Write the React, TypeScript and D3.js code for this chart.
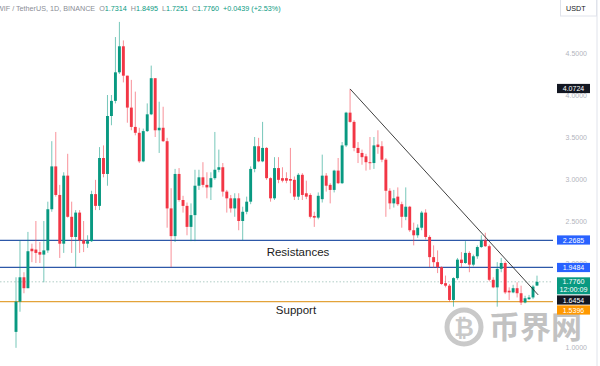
import * as React from "react";
import * as d3 from "d3";

// daily candles
const opens = [
  1.18, 1.54, 1.83, 1.70, 2.17, 2.16, 2.13, 2.10, 2.15, 2.64, 3.15, 2.81, 2.23, 3.04, 2.55, 2.31, 2.60, 2.27, 2.23, 2.26,
  2.82, 2.68, 3.25, 3.06, 3.75, 3.93, 4.27, 4.58, 4.23, 3.85, 3.62, 3.55, 3.21, 3.57, 3.77, 4.20, 3.58, 3.61, 3.45, 2.65,
  2.32, 3.06, 2.75, 2.68, 2.43, 2.57, 2.92, 3.02, 2.93, 2.90, 3.01, 3.11, 3.14, 2.85, 2.77, 2.65, 2.77, 2.50, 2.61, 2.73,
  3.12, 3.39, 3.21, 3.37, 3.01, 2.77, 3.13, 3.01, 3.01, 3.00, 2.99, 2.79, 3.05, 2.83, 2.81, 2.56, 2.54, 2.76, 3.04, 2.93,
  2.87, 3.10, 2.95, 3.40, 3.79, 3.68, 3.37, 3.31, 3.27, 3.20, 3.19, 3.41, 3.39, 3.23, 2.86, 2.71, 2.79, 2.70, 2.55, 2.67,
  2.39, 2.33, 2.42, 2.60, 2.31, 2.07, 2.01, 1.95, 1.76, 1.73, 1.56, 1.82, 2.04, 2.00, 2.12, 1.98, 2.08, 2.19, 2.27, 2.20,
  1.80, 1.71, 1.93, 2.00, 1.67, 1.65, 1.70, 1.64, 1.53, 1.57, 1.59, 1.7314,
];
const highs = [
  1.83, 2.27, 1.89, 2.37, 2.23, 2.50, 2.25, 2.50, 2.73, 3.45, 3.56, 2.93, 3.08, 3.30, 2.73, 2.63, 2.63, 2.50, 2.33, 2.86,
  2.99, 3.38, 3.40, 4.00, 4.00, 4.69, 4.87, 4.65, 4.23, 4.18, 4.04, 3.61, 3.60, 3.90, 4.35, 4.20, 3.92, 3.86, 3.49, 2.89,
  3.12, 3.13, 2.80, 2.72, 2.71, 3.11, 3.11, 3.20, 3.08, 3.08, 3.56, 3.35, 3.19, 2.87, 2.81, 2.83, 2.83, 2.67, 2.79, 3.15,
  3.50, 3.49, 3.68, 3.38, 3.02, 3.26, 3.26, 3.14, 3.08, 3.37, 3.03, 3.07, 3.07, 2.98, 2.83, 2.61, 2.84, 3.29, 3.07, 2.95,
  3.11, 3.25, 3.44, 3.80, 4.07, 3.70, 3.44, 3.35, 3.30, 3.50, 3.50, 3.58, 3.45, 3.25, 2.89, 2.87, 2.90, 2.73, 2.90, 2.68,
  2.48, 2.46, 2.62, 2.64, 2.33, 2.21, 2.15, 1.96, 1.85, 1.75, 1.83, 2.06, 2.13, 2.26, 2.14, 2.10, 2.21, 2.33, 2.36, 2.22,
  1.83, 2.01, 2.06, 2.02, 1.71, 1.74, 1.77, 1.73, 1.61, 1.62, 1.74, 1.8495,
];
const lows = [
  0.99, 1.42, 1.64, 1.70, 2.01, 2.00, 2.00, 1.77, 2.12, 2.61, 2.79, 2.06, 2.12, 2.54, 2.12, 1.95, 2.12, 2.13, 2.18, 2.25,
  2.63, 2.63, 3.02, 2.92, 3.64, 3.90, 4.25, 4.15, 3.67, 3.58, 3.52, 3.19, 3.20, 3.56, 3.76, 3.50, 3.31, 3.44, 2.42, 1.95,
  2.25, 2.73, 2.60, 2.33, 2.26, 2.26, 2.87, 2.90, 2.77, 2.75, 2.99, 3.08, 2.79, 2.60, 2.60, 2.55, 2.39, 2.27, 2.58, 2.70,
  3.08, 3.20, 3.20, 2.99, 2.73, 2.75, 2.95, 2.96, 2.95, 2.83, 2.75, 2.75, 2.75, 2.76, 2.53, 2.43, 2.52, 2.72, 2.85, 2.71,
  2.84, 2.94, 2.94, 3.38, 3.67, 3.33, 3.19, 3.17, 3.10, 3.11, 3.12, 3.30, 3.20, 2.55, 2.64, 2.66, 2.68, 2.42, 2.51, 2.37,
  2.21, 2.30, 2.39, 2.28, 1.95, 1.94, 1.88, 1.74, 1.71, 1.54, 1.48, 1.80, 1.95, 1.99, 1.89, 1.96, 2.05, 2.18, 2.19, 1.78,
  1.70, 1.48, 1.89, 1.63, 1.56, 1.64, 1.59, 1.50, 1.52, 1.56, 1.57, 1.7251,
];
const closes = [
  1.54, 1.83, 1.70, 2.14, 2.14, 2.12, 2.10, 2.15, 2.64, 3.15, 2.81, 2.23, 3.04, 2.55, 2.31, 2.60, 2.27, 2.23, 2.26, 2.82,
  2.68, 3.25, 3.06, 3.75, 3.93, 4.27, 4.58, 4.23, 3.85, 3.62, 3.55, 3.21, 3.57, 3.77, 4.20, 3.58, 3.61, 3.45, 2.65, 2.32,
  3.06, 2.75, 2.68, 2.43, 2.57, 2.92, 3.02, 2.93, 2.90, 3.01, 3.11, 3.14, 2.85, 2.77, 2.65, 2.77, 2.50, 2.61, 2.73, 3.12,
  3.39, 3.21, 3.37, 3.01, 2.77, 3.13, 2.99, 2.98, 2.98, 2.98, 2.79, 3.05, 2.81, 2.79, 2.55, 2.54, 2.80, 3.04, 2.92, 2.87,
  3.10, 2.95, 3.40, 3.79, 3.68, 3.37, 3.31, 3.26, 3.20, 3.19, 3.40, 3.38, 3.23, 2.86, 2.71, 2.77, 2.70, 2.55, 2.67, 2.39,
  2.33, 2.42, 2.60, 2.31, 2.07, 2.01, 1.95, 1.75, 1.73, 1.56, 1.82, 2.04, 2.00, 2.12, 1.98, 2.08, 2.19, 2.27, 2.20, 1.80,
  1.71, 1.93, 2.00, 1.65, 1.65, 1.70, 1.64, 1.53, 1.58, 1.59, 1.72, 1.776,
];

// 1.5000 sits fully under the tags, so it is left out
const priceTicks = [1.0, 2.0, 2.5, 3.0, 3.5, 4.0, 4.5];

// horizontal levels drawn on the chart
const resistanceLevels = [2.2685, 1.9484];
const supportLevel = 1.5396;
const lastPrice = 1.776;

// trendline: from the swing high candle to past the last bar
const trendFrom = { i: 84, p: 4.0724 };
const trendTo = { i: 131.3, p: 1.62 };

// right side price tags
const tags = [
  { value: 4.0724, text: "4.0724", fill: "#131722", y: 88.5 },
  { value: 2.2685, text: "2.2685", fill: "#2962ff", y: 240 },
  { value: 1.9484, text: "1.9484", fill: "#2962ff", y: 267.5 },
  { value: 1.6454, text: "1.6454", fill: "#131722", y: 300 },
  { value: 1.5396, text: "1.5396", fill: "#ff9800", y: 310 },
];

const header = [
  { t: "WIF / TetherUS, 1D, BINANCE  ", c: "#8a8d96" },
  { t: "O", c: "#8a8d96" },
  { t: "1.7314  ", c: "#089981" },
  { t: "H", c: "#8a8d96" },
  { t: "1.8495  ", c: "#089981" },
  { t: "L", c: "#8a8d96" },
  { t: "1.7251  ", c: "#089981" },
  { t: "C", c: "#8a8d96" },
  { t: "1.7760  ", c: "#089981" },
  { t: "+0.0439 (+2.53%)", c: "#089981" },
];

const UP = "#089981";
const DOWN = "#f23645";
const FONT = "'Liberation Sans', Arial, sans-serif";

export default function App() {
  const W = 600;
  const H = 366;

  const x = d3.scaleLinear().domain([0, opens.length - 1]).range([16, 537]);
  const y = d3.scaleLinear().domain([1, 4.5]).range([347, 53]);
  const bw = 2.9;

  const candles = d3.range(opens.length).map((i) => ({
    i,
    o: opens[i],
    h: highs[i],
    l: lows[i],
    c: closes[i],
  }));

  const line = d3
    .line<{ i: number; p: number }>()
    .x((d) => x(d.i))
    .y((d) => y(d.p));

  return (
    <svg
      width={W}
      height={H}
      style={{ position: "absolute", left: 0, top: 0, background: "#fff" }}
      fontFamily={FONT}
    >
      <rect width={W} height={H} fill="#fff" />

      {/* header */}
      <text x={-3} y={10.5} fontSize={7.2}>
        {header.map((h, k) => (
          <tspan key={k} fill={h.c} style={{ whiteSpace: "pre" }}>
            {h.t}
          </tspan>
        ))}
      </text>

      {/* watermark */}
      <g>
        <circle cx={464} cy={327} r={17} fill="none" stroke="#c9c9c9" strokeWidth={5} />
        <text x={464} y={336} textAnchor="middle" fontSize={24} fontWeight="bold" fill="#c9c9c9" fontFamily="'DejaVu Sans', sans-serif">
          ₿
        </text>
        <text x={489} y={338} fontSize={31} fontWeight="bold" fill="#c2c2c2" fontFamily="'Noto Sans CJK SC', sans-serif">
          币界网
        </text>
      </g>

      {/* levels */}
      {resistanceLevels.map((v) => (
        <line key={v} x1={0} x2={553} y1={y(v)} y2={y(v)} stroke="#2d58a8" strokeWidth={1.3} />
      ))}
      <line x1={0} x2={553} y1={y(supportLevel)} y2={y(supportLevel)} stroke="#e3a33a" strokeWidth={1.3} />
      <line
        x1={0}
        x2={553}
        y1={y(lastPrice)}
        y2={y(lastPrice)}
        stroke="#8fb8ad"
        strokeWidth={0.7}
        strokeDasharray="1.5,2"
      />

      {/* candles */}
      {candles.map((d) => {
        const col = d.c >= d.o ? UP : DOWN;
        const top = y(Math.max(d.o, d.c));
        const bot = y(Math.min(d.o, d.c));
        return (
          <g key={d.i}>
            <line x1={x(d.i)} x2={x(d.i)} y1={y(d.h)} y2={y(d.l)} stroke={col} strokeOpacity={0.55} strokeWidth={1} />
            <rect x={x(d.i) - bw / 2} y={top} width={bw} height={Math.max(1, bot - top)} fill={col} />
          </g>
        );
      })}

      {/* trendline */}
      <path d={line([trendFrom, trendTo]) || ""} stroke="#2a2a2a" strokeWidth={0.9} fill="none" />

      {/* annotations */}
      <text x={298} y={256} textAnchor="middle" fontSize={11.5} fill="#1b1b1b">
        Resistances
      </text>
      <text x={296} y={314} textAnchor="middle" fontSize={11.5} fill="#1b1b1b">
        Support
      </text>

      {/* price axis */}
      <line x1={597} x2={597} y1={0} y2={H} stroke="#e0e3eb" strokeWidth={1} />
      {priceTicks.map((t) => (
        <text key={t} x={587} y={y(t) + 2.5} textAnchor="end" fontSize={7} fill="#b2b5be">
          {t.toFixed(4)}
        </text>
      ))}

      {tags.map((t) => (
        <g key={t.text}>
          <rect x={557} y={t.y - 4.6} width={33} height={9.2} fill={t.fill} />
          <text x={573.5} y={t.y + 2.5} textAnchor="middle" fontSize={7} fill="#fff">
            {t.text}
          </text>
        </g>
      ))}
      <g>
        <rect x={557} y={y(lastPrice) - 4.5} width={33} height={17} fill={UP} />
        <text x={573.5} y={y(lastPrice) + 2.6} textAnchor="middle" fontSize={7.2} fill="#fff">
          {lastPrice.toFixed(4)}
        </text>
        <text x={573.5} y={y(lastPrice) + 10.3} textAnchor="middle" fontSize={7.2} fill="#fff">
          12:00:09
        </text>
      </g>

      {/* currency box */}
      <rect x={560.5} y={-1} width={36} height={17} fill="#fff" stroke="#e0e3eb" />
      <text x={566} y={10.5} fontSize={7.2} fill="#131722">
        USDT
      </text>
    </svg>
  );
}
